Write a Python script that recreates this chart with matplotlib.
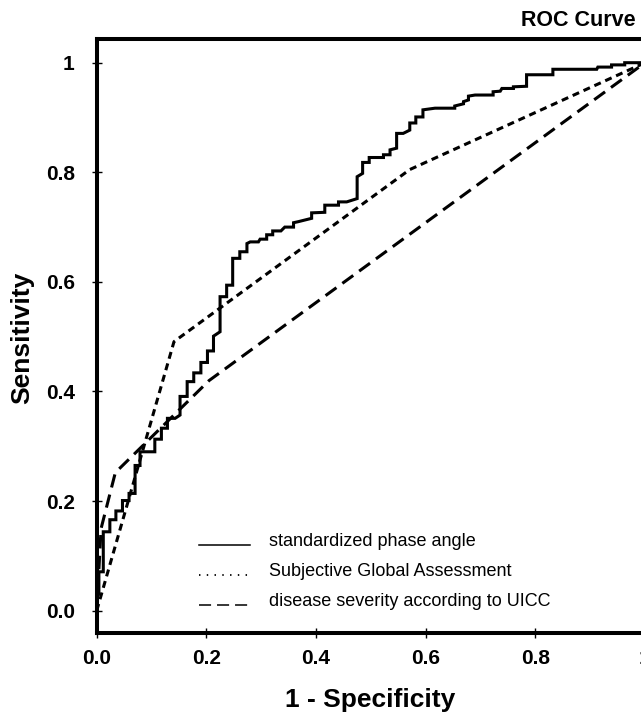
import numpy as np
import matplotlib
matplotlib.use("Agg")
import matplotlib.pyplot as plt
from matplotlib.lines import Line2D
from matplotlib.legend_handler import HandlerLine2D

# ---- data ----
phase_fpr = [0.000, 0.000, 0.004, 0.004, 0.012, 0.012, 0.024, 0.024, 0.035, 0.035,
             0.047, 0.047, 0.059, 0.059, 0.070, 0.070, 0.079, 0.079, 0.106, 0.106,
             0.118, 0.118, 0.129, 0.129, 0.143, 0.152, 0.152, 0.165, 0.165, 0.177,
             0.177, 0.190, 0.190, 0.202, 0.202, 0.213, 0.213, 0.225, 0.225, 0.237,
             0.237, 0.248, 0.248, 0.261, 0.261, 0.274, 0.274, 0.280, 0.295, 0.298,
             0.310, 0.310, 0.321, 0.321, 0.336, 0.343, 0.359, 0.359, 0.368, 0.392,
             0.392, 0.416, 0.416, 0.441, 0.441, 0.456, 0.475, 0.475, 0.485, 0.485,
             0.497, 0.497, 0.523, 0.523, 0.535, 0.535, 0.547, 0.547, 0.559, 0.571,
             0.571, 0.582, 0.582, 0.595, 0.595, 0.617, 0.653, 0.653, 0.669, 0.669,
             0.678, 0.678, 0.690, 0.723, 0.723, 0.736, 0.739, 0.760, 0.760, 0.784,
             0.784, 0.832, 0.832, 0.912, 0.914, 0.939, 0.939, 0.963, 0.963, 1.000]
phase_tpr = [0.000, 0.030, 0.030, 0.071, 0.071, 0.144, 0.144, 0.166, 0.166, 0.182,
             0.182, 0.201, 0.201, 0.214, 0.214, 0.265, 0.265, 0.290, 0.290, 0.313,
             0.313, 0.333, 0.333, 0.351, 0.351, 0.357, 0.391, 0.391, 0.418, 0.418,
             0.434, 0.434, 0.453, 0.453, 0.474, 0.474, 0.501, 0.509, 0.573, 0.573,
             0.594, 0.594, 0.643, 0.643, 0.655, 0.655, 0.670, 0.673, 0.673, 0.678,
             0.678, 0.686, 0.686, 0.693, 0.693, 0.700, 0.700, 0.708, 0.710, 0.716,
             0.726, 0.727, 0.740, 0.740, 0.746, 0.746, 0.752, 0.792, 0.798, 0.818,
             0.818, 0.827, 0.827, 0.832, 0.832, 0.841, 0.844, 0.871, 0.871, 0.877,
             0.890, 0.890, 0.901, 0.901, 0.914, 0.917, 0.917, 0.921, 0.925, 0.929,
             0.932, 0.939, 0.941, 0.941, 0.947, 0.948, 0.953, 0.953, 0.956, 0.957,
             0.978, 0.978, 0.988, 0.988, 0.992, 0.992, 0.996, 0.996, 1.000, 1.000]

sga_fpr = [0.000, 0.141, 0.571, 1.000]
sga_tpr = [0.000, 0.491, 0.805, 1.000]

uicc_fpr = [0.000, 0.008, 0.034, 0.205, 1.000]
uicc_tpr = [0.000, 0.150, 0.252, 0.420, 1.000]

series_labels = ["standardized phase angle",
                 "Subjective Global Assessment",
                 "disease severity according to UICC"]

x_ticks = [0.0, 0.2, 0.4, 0.6, 0.8, 1.0]
x_ticklabels = ["0.0", "0.2", "0.4", "0.6", "0.8", "1"]
y_ticks = [0.0, 0.2, 0.4, 0.6, 0.8, 1.0]
y_ticklabels = ["0.0", "0.2", "0.4", "0.6", "0.8", "1"]

title = "ROC Curve"
xlabel = "1 - Specificity"
ylabel = "Sensitivity"

# ---- figure ----
W, H = 641, 717
fig = plt.figure(figsize=(W / 100, H / 100), dpi=100)
ax_left, ax_right = 96.7, 645.0
ax_top, ax_bottom = 39.3, 633.0
axw, axh = ax_right - ax_left, ax_bottom - ax_top
ax = fig.add_axes([ax_left / W, 1 - ax_bottom / H, axw / W, axh / H])

bold_font = ["Liberation Sans", "DejaVu Sans"]
reg_font = ["Liberation Sans", "DejaVu Sans"]

lw = 2.2
ax.plot(phase_fpr, phase_tpr, color="black", lw=lw, solid_joinstyle="miter")
ax.plot(sga_fpr, sga_tpr, color="black", lw=lw, linestyle=(0, (2.3, 1.6)))
ax.plot(uicc_fpr, uicc_tpr, color="black", lw=lw, linestyle=(0, (4.4, 2.4)))

ax.set_xlim(0.0, 1.0)
ax.set_ylim(-0.0407, 1.0427)

ax.spines["right"].set_visible(False)
for s in ["left", "top", "bottom"]:
    ax.spines[s].set_linewidth(2.9)

ax.set_xticks(x_ticks)
ax.set_xticklabels(x_ticklabels, fontfamily=bold_font, fontweight="bold", fontsize=15)
ax.set_yticks(y_ticks)
ax.set_yticklabels(y_ticklabels, fontfamily=bold_font, fontweight="bold", fontsize=15)
ax.tick_params(axis="both", direction="inout", length=7.5, width=1.0, color="black")
ax.tick_params(axis="x", pad=8)
ax.tick_params(axis="y", pad=12)

ax.set_xlabel(xlabel, fontfamily=bold_font, fontweight="bold", fontsize=19, va="center")
ax.xaxis.set_label_coords((370 - ax_left) / axw, (ax_bottom - 700) / axh)
ax.set_ylabel(ylabel, fontfamily=bold_font, fontweight="bold", fontsize=19, va="center")
ax.yaxis.set_label_coords((22 - ax_left) / axw, (ax_bottom - 338) / axh)
fig.text(636 / W, 1 - 20 / H, title, ha="right", va="center",
         fontfamily=bold_font, fontweight="bold", fontsize=15.5)


class BaselineHandler(HandlerLine2D):
    def create_artists(self, legend, orig_handle, xdescent, ydescent,
                       width, height, fontsize, trans):
        arts = super().create_artists(legend, orig_handle, xdescent, ydescent,
                                      width, height, fontsize, trans)
        for a in arts:
            if isinstance(a, Line2D):
                a.set_ydata(np.asarray(a.get_ydata()) - height * 0.45)
        return arts


handles = [
    Line2D([], [], color="black", lw=1.1),
    Line2D([], [], color="black", lw=1.3, linestyle=(0, (0.8, 3.5))),
    Line2D([], [], color="black", lw=1.1, linestyle=(0, (7.9, 3.9))),
]
leg = ax.legend(handles, series_labels, loc="upper left",
                bbox_to_anchor=((199 - ax_left) / axw, (ax_bottom - 533) / axh),
                frameon=False, borderpad=0, borderaxespad=0,
                handlelength=2.8, handletextpad=1.1, labelspacing=0.72,
                prop={"family": reg_font, "size": 13},
                handler_map={h: BaselineHandler() for h in handles})

fig.savefig("out.png", dpi=100)
